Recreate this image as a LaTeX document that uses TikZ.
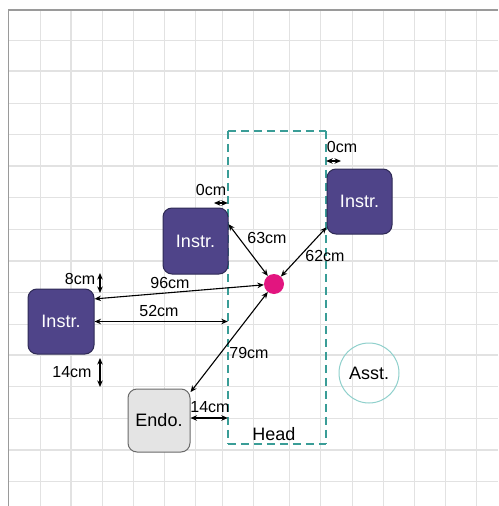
\documentclass[tikz,border=0pt]{standalone}
\usepackage{fontspec}
\setmainfont{Liberation Sans}
\usetikzlibrary{arrows.meta,calc}
\definecolor{instrfill}{HTML}{4F4489}
\definecolor{instrdraw}{HTML}{2E2A55}
\definecolor{endofill}{HTML}{E4E4E4}
\definecolor{endodraw}{HTML}{6A6A6A}
\definecolor{headcol}{HTML}{3A9D97}
\definecolor{asstcol}{HTML}{8FD0CC}
\definecolor{dotcol}{HTML}{E2157F}
\definecolor{gridcol}{HTML}{E2E2E2}
\definecolor{framecol}{HTML}{9A9A9A}
\tikzset{
  instr/.style={draw=instrdraw, fill=instrfill, rounded corners=9pt, line width=1pt,
    text=white, font=\fontsize{18}{20}\selectfont, inner sep=0pt},
  endo/.style={draw=endodraw, fill=endofill, rounded corners=9pt, line width=1pt,
    font=\fontsize{18}{20}\selectfont, inner sep=0pt},
  asst/.style={circle, draw=asstcol, line width=1pt, minimum size=60pt,
    font=\fontsize{18}{20}\selectfont, inner sep=0pt},
  pinkdot/.style={circle, fill=dotcol, minimum size=20pt, inner sep=0pt},
  headarea/.style={inner sep=0pt},
  headline/.style={draw=headcol, dash pattern=on 8pt off 5pt, line width=1.8pt},
  dim/.style={{Stealth[length=6.5pt,width=5.5pt]}-{Stealth[length=6.5pt,width=5.5pt]}, line width=1.1pt, black},
  lbl/.style={font=\fontsize{16}{18}\selectfont, inner sep=0pt},
  headlbl/.style={font=\fontsize{18}{20}\selectfont, inner sep=0pt},
  gridline/.style={gridcol, line width=1.2pt},
}
\begin{document}
\begin{tikzpicture}[x=1pt,y=-1pt]
\useasboundingbox (0,0) rectangle (498,506);
\fill[white] (0,0) rectangle (498,506);
% grid
\foreach \gx in {40.7,71,102.3,133.3,164.3,195.7,222.7,253.3,289.3,320.7,352.7,383.3,414.3,445.7,476.7}
  \draw[gridline] (\gx,10) -- (\gx,506);
\foreach \gy in {40.7,71,103.3,134.3,166,197.7,229.3,261,292.7,324.3,355,386.7,418.3,450,481.7}
  \draw[gridline] (8.5,\gy) -- (498,\gy);
% frame
\draw[framecol, line width=1.5pt] (8.5,506) -- (8.5,10) -- (498,10);

% head zone
\node[headarea, minimum width=98pt, minimum height=313pt] (headzone) at (277,287.5) {};
\draw[headline] (headzone.north west) -- (headzone.north east);
\draw[headline] (headzone.north east) -- (headzone.south east);
\draw[headline] (headzone.south west) -- (headzone.south east);
\draw[headline] (headzone.north west) -- (headzone.south west);
\node[headlbl] (headtxt) at (274,434) {Head};

% nodes
\node[instr, minimum width=65pt, minimum height=66pt] (mi) at (195.5,241) {Instr.};
\node[instr, minimum width=65pt, minimum height=65pt] (ri) at (359.5,201.5) {Instr.};
\node[instr, minimum width=66pt, minimum height=65pt] (li) at (61,321.5) {Instr.};
\node[endo, minimum width=62pt, minimum height=63pt] (en) at (159,420.5) {Endo.};
\node[asst] (as) at (369,373) {Asst.};
\node[pinkdot] (dot) at (274,284) {};

% coordinates for free ends
\coordinate (z1a) at (214,203);
\coordinate (z1b) at (headzone.west |- z1a);
\coordinate (z2b) at (341,161);
\coordinate (z2a) at (headzone.east |- z2b);
\coordinate (e8a) at (100,273);
\coordinate (e8b) at (100,293);
\coordinate (e14a) at (100,358);
\coordinate (e14b) at (100,387);

% dimension arrows
\draw[dim] (mi.27.6) -- (dot);
\draw[dim] (dot) -- (ri.218);
\draw[dim] (li.34) -- (dot);
\draw[dim] (li.east) -- (li.east -| headzone.west);
\draw[dim] (en.42.6) -- (dot);
\draw[dim] ($(en.east)+(0,-2.5)$) -- ($(en.east -| headzone.west)+(0,-2.5)$);
\draw[dim] (z1a) -- (z1b);
\draw[dim] (z2a) -- (z2b);
\draw[dim] (e8a) -- (e8b);
\draw[dim] (e14a) -- (e14b);

% labels
\node[lbl] (l63) at (267,238) {63cm};
\node[lbl] (l62) at (325,256) {62cm};
\node[lbl] (l96) at (170,283) {96cm};
\node[lbl] (l52) at (159,311) {52cm};
\node[lbl] (l8) at (80,279) {8cm};
\node[lbl] (l14a) at (72,372) {14cm};
\node[lbl] (l79) at (249,353) {79cm};
\node[lbl] (l14b) at (210,407) {14cm};
\node[lbl] (l0a) at (211,190) {0cm};
\node[lbl] (l0b) at (342,147) {0cm};
\end{tikzpicture}
\end{document}
